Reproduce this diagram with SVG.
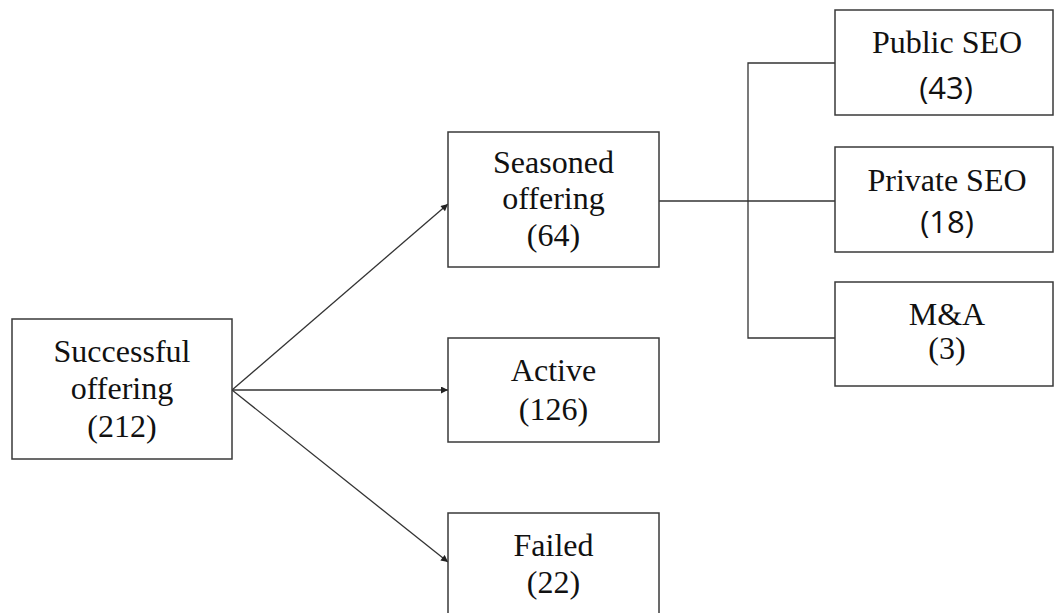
<svg xmlns="http://www.w3.org/2000/svg" width="1055" height="613" viewBox="0 0 1055 613">
<defs>
<style>
.box{fill:#fff;stroke:#3a3a3a;stroke-width:1.5}
.ln{fill:none;stroke:#333;stroke-width:1.3}
.t{font-family:"Liberation Serif","Times New Roman",serif;font-size:32px;fill:#111;text-anchor:middle}
.n{font-family:"Open Sans","Noto Sans",sans-serif;font-size:31px;fill:#111;text-anchor:middle}
</style>
<marker id="arr" viewBox="0 0 10 10" refX="10" refY="5" markerWidth="9" markerHeight="7" markerUnits="userSpaceOnUse" orient="auto">
<path d="M0,0 L10,5 L0,10 z" fill="#222"/>
</marker>
</defs>
<rect width="1055" height="613" fill="#fff"/>
<g id="connectors">
<line class="ln" x1="232" y1="390" x2="448" y2="204" marker-end="url(#arr)"/>
<line class="ln" x1="232" y1="390" x2="448" y2="390" marker-end="url(#arr)"/>
<line class="ln" x1="232" y1="390" x2="448" y2="562" marker-end="url(#arr)"/>
<line class="ln" x1="659" y1="201" x2="835" y2="201"/>
<polyline class="ln" points="835,63 748,63 748,338 835,338"/>
</g>
<g id="successful">
<rect class="box" x="12" y="319" width="220" height="140"/>
<text class="t" x="122" y="362">Successful</text>
<text class="t" x="122" y="399">offering</text>
<text class="t" x="122" y="437">(212)</text>
</g>
<g id="seasoned">
<rect class="box" x="448" y="132" width="211" height="135"/>
<text class="t" x="553.5" y="173">Seasoned</text>
<text class="t" x="553.5" y="209">offering</text>
<text class="t" x="553.5" y="246">(64)</text>
</g>
<g id="active">
<rect class="box" x="448" y="338" width="211" height="104"/>
<text class="t" x="553.5" y="381">Active</text>
<text class="t" x="553.5" y="420">(126)</text>
</g>
<g id="failed">
<rect class="box" x="448" y="513" width="211" height="110"/>
<text class="t" x="553.5" y="556">Failed</text>
<text class="t" x="553.5" y="593">(22)</text>
</g>
<g id="public-seo">
<rect class="box" x="835" y="10" width="218" height="105"/>
<text class="t" x="947" y="53">Public SEO</text>
<text class="n" x="946" y="99">(43)</text>
</g>
<g id="private-seo">
<rect class="box" x="835" y="147" width="218" height="105"/>
<text class="t" x="947" y="191">Private SEO</text>
<text class="n" x="947" y="233">(18)</text>
</g>
<g id="m-and-a">
<rect class="box" x="835" y="282" width="218" height="104"/>
<text class="t" x="947" y="325">M&amp;A</text>
<text class="t" x="947" y="359">(3)</text>
</g>
</svg>
